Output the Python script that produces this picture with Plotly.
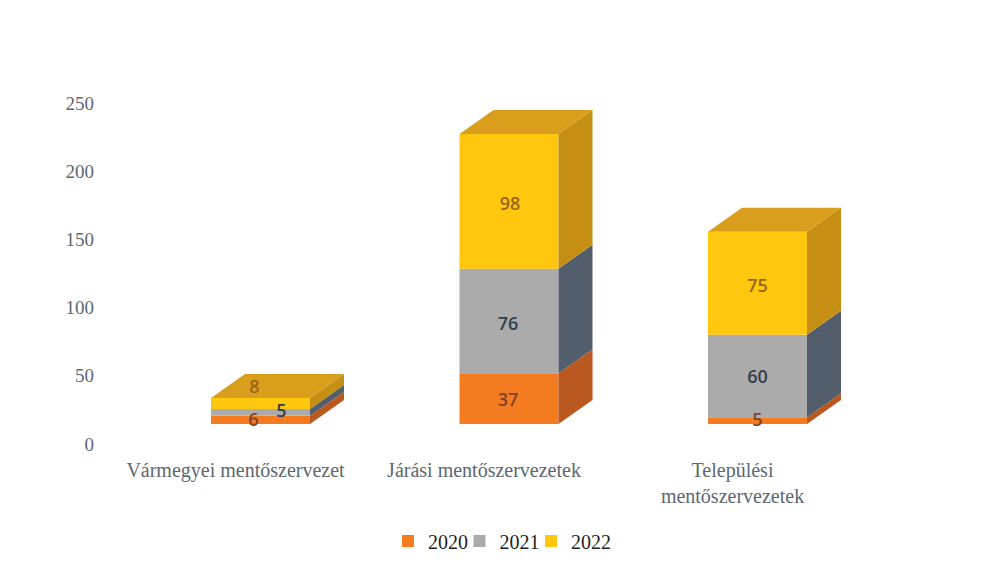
import plotly.graph_objects as go

categories = ["Vármegyei mentőszervezet", "Járási mentőszervezetek", "Települési<br>mentőszervezetek"]
years = ["2020", "2021", "2022"]
values_2020 = [6, 37, 5]
values_2021 = [5, 76, 60]
values_2022 = [8, 98, 75]
y_ticks = [0, 50, 100, 150, 200, 250]

series = [values_2020, values_2021, values_2022]
front_colors = ["#F47B20", "#ABABAB", "#FFC80F"]
side_colors = ["#B9591F", "#525E6B", "#C48F12"]
top_color = "#D99E1C"
label_colors = ["#7E4428", "#333F4B", "#9A6418"]
legend_widths = [26.5, 26.5, 46]

# Pixel scale of the drawing (figure sits 8px inside the page)
W, H = 982, 555
PX_X, PX_Y = 248.5, 1.374
X0_PX, Y0_PX = 252.5, 416
LEFT, RIGHT, TOP, BOTTOM = 87, 892, 82, 448
BAR_W = 99 / PX_X
DX = 34 / PX_X
DY = 24 / PX_Y

# Label nudges (axis units), one per series and category
label_dx = [[-7 / PX_X, -1 / PX_X, 0], [21 / PX_X, -1 / PX_X, 0], [-6 / PX_X, 1 / PX_X, 0]]
label_dy = [[-1, -2, -1], [0, -3, -2], [10.5, -3, -3]]

fig = go.Figure()
x = list(range(len(categories)))
base = [0, 0, 0]
for s, vals in enumerate(series):
    fig.add_trace(go.Bar(x=x, y=vals, base=base, width=BAR_W, name=years[s], legendwidth=legend_widths[s],
                         marker=dict(color=front_colors[s], line_width=0), offsetgroup="a"))
    # side faces
    sx, sy = [], []
    for i, v in enumerate(vals):
        r = i + BAR_W / 2
        sx += [r, r + DX, r + DX, r, r, None]
        sy += [base[i], base[i] + DY, base[i] + v + DY, base[i] + v, base[i], None]
    fig.add_trace(go.Scatter(x=sx, y=sy, mode="lines", fill="toself", fillcolor=side_colors[s],
                             line=dict(width=0), showlegend=False, hoverinfo="skip"))
    base = [b + v for b, v in zip(base, vals)]

# top faces
tx, ty = [], []
for i, b in enumerate(base):
    l, r = i - BAR_W / 2, i + BAR_W / 2
    tx += [l, l + DX, r + DX, r, l, None]
    ty += [b, b + DY, b + DY, b, b, None]
fig.add_trace(go.Scatter(x=tx, y=ty, mode="lines", fill="toself", fillcolor=top_color,
                         line=dict(width=0), showlegend=False, hoverinfo="skip"))

# data labels
base = [0, 0, 0]
for s, vals in enumerate(series):
    fig.add_trace(go.Scatter(
        x=[i + label_dx[s][i] for i in x],
        y=[b + v / 2 + label_dy[s][i] for i, (b, v) in enumerate(zip(base, vals))],
        mode="text", text=[str(v) for v in vals], textposition="middle center",
        textfont=dict(family="Open Sans, sans-serif", size=18, color=label_colors[s], weight=600),
        showlegend=False, hoverinfo="skip"))
    base = [b + v for b, v in zip(base, vals)]

axis_font = dict(family="Liberation Serif, serif", size=20, color="#5B6772")
fig.update_layout(
    width=W, height=H, barmode="overlay", showlegend=True,
    margin=dict(l=LEFT, r=W - RIGHT, t=TOP, b=H - BOTTOM, autoexpand=False),
    paper_bgcolor="white", plot_bgcolor="rgba(0,0,0,0)",
    xaxis=dict(range=[(LEFT - X0_PX) / PX_X, (RIGHT - X0_PX) / PX_X], showgrid=False, zeroline=False,
               showline=False, ticks="", tickmode="array",
               tickvals=[i - 25 / PX_X for i in x], ticktext=categories, tickfont=axis_font,
               tickangle=0),
    yaxis=dict(range=[(Y0_PX - BOTTOM) / PX_Y, (Y0_PX - TOP) / PX_Y], showgrid=False, zeroline=False,
               showline=False, ticks="", tickmode="array",
               tickvals=[t * 1.364 / PX_Y - 20 / PX_Y for t in y_ticks],
               ticktext=[str(t) for t in y_ticks], tickfont=dict(axis_font, size=19)),
    legend=dict(orientation="h", x=0.364, xanchor="left", xref="paper", y=-0.232, yanchor="middle",
                font=dict(family="Liberation Serif, serif", size=20, color="#1E1E1E"),
                bgcolor="rgba(0,0,0,0)"),
)
fig.write_html("out.html")
